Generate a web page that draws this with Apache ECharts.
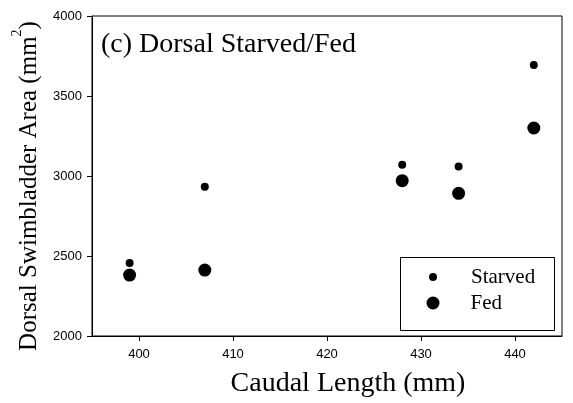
<!DOCTYPE html>
<html>
<head>
<meta charset="utf-8">
<script src="https://cdn.jsdelivr.net/npm/echarts@6/dist/echarts.min.js"></script>
<style>html,body{margin:0;padding:0;background:#fff}#c{width:573px;height:403px}</style>
</head>
<body>
<div id="c"></div>
<script>
var caudalLength = [399, 407, 428, 434, 442];
var starvedArea = [2456, 2933, 3070, 3060, 3694];
var fedArea = [2381, 2412, 2971, 2892, 3300];
var xTicks = [400, 410, 420, 430, 440];
var yTicks = [2000, 2500, 3000, 3500, 4000];

var serif = '"Liberation Serif", "DejaVu Serif", serif';
var sans = '"Liberation Sans", Arial, sans-serif';

function pairs(xs, ys) { return xs.map(function (x, i) { return [x, ys[i]]; }); }

var chart = echarts.init(document.getElementById('c'), null, {renderer: 'canvas'});
chart.setOption({
  animation: false,
  backgroundColor: '#fff',
  title: {
    text: '(c) Dorsal Starved/Fed',
    left: 101, top: 31, padding: 0,
    textStyle: {fontFamily: serif, fontSize: 28, fontWeight: 'normal', color: '#000'}
  },
  grid: {left: 92, right: 11, top: 16, bottom: 66, show: true, borderColor: '#000', borderWidth: 1},
  xAxis: {
    type: 'value', min: 395, max: 445,
    name: 'Caudal Length (mm)', nameLocation: 'middle', nameGap: 34,
    nameTextStyle: {fontFamily: serif, fontSize: 28, color: '#000', padding: [0, 0, 0, 42]},
    axisLine: {show: true, lineStyle: {color: '#000', width: 1}},
    axisTick: {show: true, length: 5, customValues: xTicks, lineStyle: {color: '#000'}},
    axisLabel: {customValues: xTicks, margin: 12, fontFamily: sans, fontSize: 13, color: '#000',
      formatter: function (v) { return String(v); }},
    splitLine: {show: false}
  },
  yAxis: {
    type: 'value', min: 2000, max: 4000, interval: 500,
    name: 'Dorsal Swimbladder Area (mm{s|2})', nameLocation: 'middle', nameGap: 31,
    nameTextStyle: {fontFamily: serif, fontSize: 25, color: '#000', padding: [0, 20, 0, 0],
      rich: {s: {fontFamily: serif, fontSize: 14, color: '#000', verticalAlign: 'top', padding: [0, 0, 24, 0]}}},
    axisLine: {show: true, lineStyle: {color: '#000', width: 1}},
    axisTick: {show: true, length: 5, lineStyle: {color: '#000'}},
    axisLabel: {margin: 10, fontFamily: sans, fontSize: 13, color: '#000',
      customValues: yTicks, formatter: function (v) { return String(v); }},
    splitLine: {show: false}
  },
  legend: [
    {data: ['Starved'], orient: 'vertical', left: 429, top: 266, padding: 0,
     itemWidth: 8, itemHeight: 8, itemGap: 5,
     textStyle: {fontFamily: serif, fontSize: 21, color: '#000', lineHeight: 22, padding: [0, 0, 0, 29]}},
    {data: ['Fed'], orient: 'vertical', left: 426.5, top: 292, padding: 0,
     itemWidth: 13, itemHeight: 13, itemGap: 5,
     textStyle: {fontFamily: serif, fontSize: 21, color: '#000', lineHeight: 22, padding: [0, 0, 0, 26]}}
  ],
  graphic: [{
    type: 'rect', left: 398, top: 255, z: 100, silent: true,
    shape: {width: 154, height: 73},
    style: {fill: null, stroke: '#000', lineWidth: 1}
  }],
  series: [
    {name: 'Starved', type: 'scatter', symbol: 'circle', symbolSize: 8,
     itemStyle: {color: '#000', opacity: 1}, data: pairs(caudalLength, starvedArea)},
    {name: 'Fed', type: 'scatter', symbol: 'circle', symbolSize: 13,
     itemStyle: {color: '#000', opacity: 1}, data: pairs(caudalLength, fedArea)}
  ]
});
</script>
</body>
</html>
